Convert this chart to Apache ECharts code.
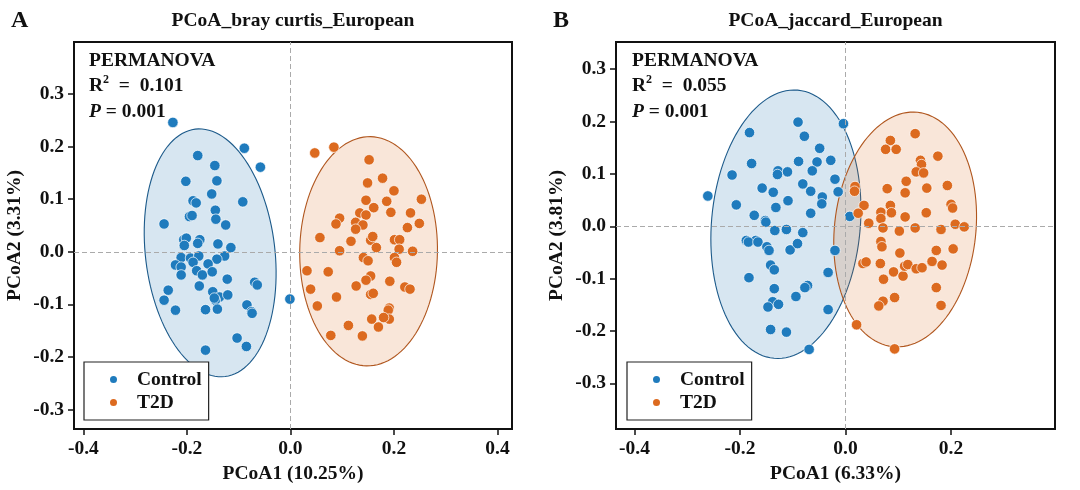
<!DOCTYPE html>
<html>
<head>
<meta charset="utf-8">
<script src="https://cdn.jsdelivr.net/npm/echarts@6/dist/echarts.min.js"></script>
<style>
  html, body { margin: 0; padding: 0; background: #fff; }
  #chart { width: 1080px; height: 490px; }
</style>
</head>
<body>
<div id="chart"></div>
<script>
const FONT = "'Times New Roman', 'Liberation Serif', serif";
const BLUE = '#1f7bbd';
const ORANGE = '#dc6a1f';

// panel A: bray curtis, [PCoA1, PCoA2]
const ctrlA = [
  [-0.227, 0.246], [-0.089, 0.197], [-0.058, 0.161], [-0.179, 0.183], [-0.146, 0.164],
  [-0.202, 0.134], [-0.142, 0.135], [-0.152, 0.110], [-0.188, 0.097], [-0.182, 0.093],
  [-0.092, 0.095], [-0.145, 0.079], [-0.244, 0.053], [-0.195, 0.067], [-0.190, 0.069],
  [-0.144, 0.062], [-0.125, 0.051], [-0.206, 0.023], [-0.201, 0.026], [-0.175, 0.023],
  [-0.140, 0.015], [-0.179, 0.016], [-0.115, 0.008], [-0.205, 0.012],
  [-0.211, -0.011], [-0.193, -0.012], [-0.177, -0.008], [-0.127, -0.008], [-0.222, -0.025],
  [-0.211, -0.029], [-0.188, -0.020], [-0.142, -0.014], [-0.159, -0.023], [-0.211, -0.044],
  [-0.181, -0.036], [-0.170, -0.044], [-0.151, -0.038], [-0.122, -0.052], [-0.176, -0.065],
  [-0.236, -0.073], [-0.150, -0.076], [-0.137, -0.086], [-0.145, -0.092], [-0.147, -0.088],
  [-0.121, -0.082], [-0.069, -0.058], [-0.064, -0.063], [-0.244, -0.092], [-0.222, -0.111],
  [-0.164, -0.110], [-0.141, -0.109], [-0.084, -0.101], [-0.075, -0.114], [-0.074, -0.117],
  [-0.103, -0.164], [-0.085, -0.180], [-0.164, -0.187], [-0.001, -0.090]
];
const t2dA = [
  [0.047, 0.188], [0.084, 0.199], [0.152, 0.175], [0.149, 0.131], [0.178, 0.140],
  [0.200, 0.116], [0.253, 0.100], [0.146, 0.098], [0.186, 0.096], [0.161, 0.084],
  [0.194, 0.075], [0.232, 0.074], [0.134, 0.074], [0.146, 0.070], [0.095, 0.064],
  [0.088, 0.053], [0.126, 0.056], [0.140, 0.051], [0.126, 0.043], [0.249, 0.054],
  [0.226, 0.046], [0.057, 0.027], [0.117, 0.020], [0.155, 0.022], [0.159, 0.029],
  [0.201, 0.023], [0.211, 0.023], [0.166, 0.008], [0.095, 0.002], [0.210, 0.005],
  [0.236, 0.001], [0.141, -0.011], [0.150, -0.017], [0.201, -0.011], [0.205, -0.020],
  [0.032, -0.036], [0.073, -0.038], [0.155, -0.046], [0.146, -0.054], [0.039, -0.071],
  [0.127, -0.065], [0.192, -0.056], [0.221, -0.067], [0.231, -0.071], [0.089, -0.086],
  [0.155, -0.081], [0.160, -0.079], [0.052, -0.103], [0.191, -0.107], [0.189, -0.111],
  [0.191, -0.128], [0.157, -0.128], [0.180, -0.125], [0.112, -0.140], [0.170, -0.143],
  [0.078, -0.159], [0.139, -0.160]
];

// panel B: jaccard
const ctrlB = [
  [-0.261, 0.058], [-0.090, 0.199], [-0.004, 0.196], [-0.182, 0.179], [-0.078, 0.172],
  [-0.049, 0.149], [-0.178, 0.120], [-0.089, 0.124], [-0.054, 0.123], [-0.028, 0.126],
  [-0.215, 0.098], [-0.128, 0.106], [-0.110, 0.104], [-0.129, 0.099], [-0.063, 0.106],
  [-0.020, 0.090], [-0.158, 0.073], [-0.137, 0.065], [-0.081, 0.081], [-0.066, 0.067],
  [-0.044, 0.056], [-0.045, 0.043], [-0.014, 0.066], [-0.207, 0.041], [-0.109, 0.049],
  [-0.132, 0.036], [-0.173, 0.021], [-0.066, 0.025], [-0.152, 0.011], [-0.151, 0.008],
  [0.008, 0.019], [-0.134, -0.008], [-0.112, -0.006], [-0.081, -0.012], [-0.188, -0.027],
  [-0.170, -0.027], [-0.184, -0.030], [-0.166, -0.030], [-0.149, -0.039], [-0.145, -0.046],
  [-0.105, -0.045], [-0.091, -0.033], [-0.020, -0.046], [-0.142, -0.074], [-0.135, -0.083],
  [-0.183, -0.098], [-0.033, -0.088], [-0.135, -0.119], [-0.072, -0.113], [-0.077, -0.117],
  [-0.094, -0.134], [-0.138, -0.144], [-0.147, -0.154], [-0.127, -0.149], [-0.033, -0.159],
  [-0.142, -0.197], [-0.112, -0.202], [-0.069, -0.235]
];
const t2dB = [
  [0.132, 0.177], [0.085, 0.164], [0.076, 0.147], [0.096, 0.147], [0.175, 0.134],
  [0.142, 0.126], [0.144, 0.118], [0.115, 0.086], [0.134, 0.104], [0.148, 0.102],
  [0.018, 0.076], [0.017, 0.067], [0.079, 0.072], [0.113, 0.064], [0.154, 0.073],
  [0.193, 0.078], [0.035, 0.040], [0.024, 0.025], [0.085, 0.040], [0.200, 0.042],
  [0.203, 0.035], [0.067, 0.027], [0.087, 0.026], [0.153, 0.026], [0.113, 0.018],
  [0.067, 0.015], [0.044, 0.006], [0.071, -0.003], [0.132, -0.003], [0.208, 0.004],
  [0.225, -0.001], [0.102, -0.009], [0.181, -0.006], [0.067, -0.029], [0.069, -0.039],
  [0.172, -0.046], [0.204, -0.043], [0.103, -0.051], [0.033, -0.071], [0.039, -0.068],
  [0.066, -0.071], [0.091, -0.087], [0.109, -0.095], [0.112, -0.076], [0.118, -0.073],
  [0.134, -0.081], [0.145, -0.079], [0.164, -0.067], [0.183, -0.074], [0.072, -0.101],
  [0.172, -0.117], [0.093, -0.136], [0.071, -0.143], [0.063, -0.152], [0.181, -0.151],
  [0.021, -0.188], [0.093, -0.234]
];

// confidence ellipses: [cx, cy, rx, ry, angle deg]
const ellA = [[-0.155, -0.002, 0.125, 0.237, 7], [0.151, 0.001, 0.133, 0.218, -1]];
const ellB = [[-0.113, 0.004, 0.141, 0.257, -5], [0.113, -0.006, 0.134, 0.225, -6]];

const xTicksA = [-0.4, -0.2, 0, 0.2, 0.4];
const xTicksB = [-0.4, -0.2, 0, 0.2];
const yTicks = [-0.3, -0.2, -0.1, 0, 0.1, 0.2, 0.3];

const ellFill = ['rgba(31,119,180,0.18)', 'rgba(221,105,30,0.17)'];
const ellStroke = ['#1c5a8a', '#b0561e'];

const chart = echarts.init(document.getElementById('chart'));

function ellipseItem(params, api) {
  const cx = api.value(0), cy = api.value(1);
  const rx = api.value(2), ry = api.value(3);
  const a = api.value(4) * Math.PI / 180;
  const pts = [];
  for (let i = 0; i < 120; i++) {
    const t = i / 120 * Math.PI * 2;
    const x = cx + rx * Math.cos(t) * Math.cos(a) - ry * Math.sin(t) * Math.sin(a);
    const y = cy + rx * Math.cos(t) * Math.sin(a) + ry * Math.sin(t) * Math.cos(a);
    pts.push(api.coord([x, y]));
  }
  return {
    type: 'polygon',
    shape: { points: pts },
    style: { fill: ellFill[params.dataIndex], stroke: ellStroke[params.dataIndex], lineWidth: 1.1 }
  };
}

const FS = 19.5;
const tickFmt = v => v.toFixed(1);
const labelStyle = { fontFamily: FONT, fontWeight: 'bold', fontSize: FS, color: '#111' };
const nameStyle = { fontFamily: FONT, fontWeight: 'bold', fontSize: FS, color: '#111' };

function xAxis(idx, min, max, ticks, name) {
  return {
    gridIndex: idx, type: 'value', min: min, max: max,
    name: name, nameLocation: 'middle', nameGap: 33, nameTextStyle: nameStyle,
    splitLine: { show: false }, axisLine: { show: false, onZero: false },
    axisTick: { show: true, length: 6, customValues: ticks, lineStyle: { color: '#111', width: 1.5 } },
    axisLabel: Object.assign({ customValues: ticks, formatter: tickFmt, margin: 10 }, labelStyle)
  };
}
function yAxis(idx, min, max, name, gap) {
  return {
    gridIndex: idx, type: 'value', min: min, max: max,
    name: name, nameLocation: 'middle', nameGap: gap, nameTextStyle: nameStyle,
    splitLine: { show: false }, axisLine: { show: false, onZero: false },
    axisTick: { show: true, length: 6, customValues: yTicks, lineStyle: { color: '#111', width: 1.5 } },
    axisLabel: Object.assign({ customValues: yTicks, formatter: tickFmt, margin: 10 }, labelStyle)
  };
}

const zeroLines = {
  silent: true, symbol: 'none', label: { show: false },
  lineStyle: { type: [5, 3], color: '#aaa', width: 1 },
  data: [{ xAxis: 0 }, { yAxis: 0 }]
};

function scatter(name, data, idx, color, withLines) {
  const s = {
    name: name, type: 'scatter', xAxisIndex: idx, yAxisIndex: idx, data: data,
    symbolSize: 10.5, z: 3,
    itemStyle: { color: color, borderColor: '#fff', borderWidth: 0.7, opacity: 1 }
  };
  if (withLines) s.markLine = zeroLines;
  return s;
}
function ellipses(data, idx) {
  return {
    name: 'ellipse', type: 'custom', xAxisIndex: idx, yAxisIndex: idx, data: data,
    renderItem: ellipseItem, encode: { x: 0, y: 1 }, z: 1, silent: true, clip: true
  };
}

function legend(left) {
  return {
    left: left, top: 362, orient: 'vertical', data: ['Control', 'T2D'],
    icon: 'circle', itemWidth: 9, itemHeight: 9, itemGap: 2,
    padding: [7, 7, 7, 24], borderColor: '#222', borderWidth: 1.2, backgroundColor: '#fff',
    borderRadius: 0,
    textStyle: { fontFamily: FONT, fontWeight: 'bold', fontSize: FS, color: '#111', lineHeight: 21, padding: [0, 0, 0, 14] }
  };
}

function stats(x, r2) {
  return {
    type: 'text', x: x, y: 48, z: 10,
    style: {
      text: '{b|PERMANOVA}\n{b|R}{s|2}{b|  =  ' + r2 + '}\n{i|P}{b| = 0.001}',
      fill: '#111',
      rich: {
        b: { fontFamily: FONT, fontWeight: 'bold', fontSize: FS, lineHeight: 25.5, fill: '#111' },
        s: { fontFamily: FONT, fontWeight: 'bold', fontSize: 12, lineHeight: 15, verticalAlign: 'top', fill: '#111' },
        i: { fontFamily: FONT, fontWeight: 'bold', fontStyle: 'italic', fontSize: FS, lineHeight: 25.5, fill: '#111' }
      }
    }
  };
}
function label(x, y, text, size, align) {
  return {
    type: 'text', x: x, y: y,
    style: { text: text, fontFamily: FONT, fontWeight: 'bold', fontSize: size, fill: '#111', align: align, verticalAlign: 'middle' }
  };
}

const option = {
  animation: false,
  backgroundColor: '#fff',
  grid: [
    { left: 74, top: 42, width: 438, height: 387, show: true, borderColor: '#111', borderWidth: 2, backgroundColor: 'transparent' },
    { left: 616, top: 42, width: 439, height: 387, show: true, borderColor: '#111', borderWidth: 2, backgroundColor: 'transparent' }
  ],
  xAxis: [
    xAxis(0, -0.418, 0.428, xTicksA, 'PCoA1 (10.25%)'),
    xAxis(1, -0.435, 0.397, xTicksB, 'PCoA1 (6.33%)')
  ],
  yAxis: [
    yAxis(0, -0.337, 0.399, 'PCoA2 (3.31%)', 49),
    yAxis(1, -0.387, 0.352, 'PCoA2 (3.81%)', 49)
  ],
  legend: [legend(84), legend(627)],
  graphic: [
    label(11, 21, 'A', 24, 'left'),
    label(553, 21, 'B', 24, 'left'),
    label(293, 21, 'PCoA_bray curtis_European', FS, 'center'),
    label(835.5, 21, 'PCoA_jaccard_European', FS, 'center'),
    stats(89, '0.101'),
    stats(632, '0.055')
  ],
  series: [
    ellipses(ellA, 0),
    scatter('Control', ctrlA, 0, BLUE, true),
    scatter('T2D', t2dA, 0, ORANGE, false),
    ellipses(ellB, 1),
    scatter('Control', ctrlB, 1, BLUE, true),
    scatter('T2D', t2dB, 1, ORANGE, false)
  ]
};

chart.setOption(option);
</script>
</body>
</html>
